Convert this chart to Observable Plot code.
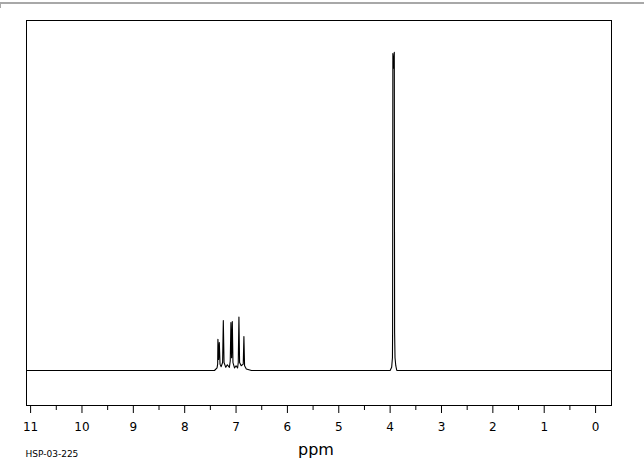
<!DOCTYPE html>
<html><head><meta charset="utf-8">
<script src="https://cdn.jsdelivr.net/npm/d3@7"></script>
<script src="https://cdn.jsdelivr.net/npm/@observablehq/plot@0.6"></script>
<style>
body{margin:0;background:#fff;}
#wrap{position:relative;width:644px;height:465px;}
.rule{position:absolute;left:0;top:2px;width:644px;height:2px;background:#a8a8a8;}
.rtick{position:absolute;left:0;top:2px;width:1px;height:6px;background:#a8a8a8;}
#chart{position:absolute;left:0;top:0;}
</style>
</head><body>
<div id="wrap"><div class="rule"></div><div class="rtick"></div><div id="chart"></div></div>
<script>
// Spectrum points (chemical shift in ppm, relative intensity)
const ppm = [11.08, 7.42, 7.37, 7.358, 7.353, 7.340, 7.326, 7.312, 7.29, 7.262, 7.248, 7.234, 7.20, 7.17, 7.13, 7.113, 7.100, 7.087, 7.073, 7.060, 7.03, 7.00, 6.97, 6.957, 6.944, 6.931, 6.90, 6.86, 6.847, 6.834, 6.80, 6.70,
             4.00, 3.97, 3.955, 3.952, 3.947, 3.933, 3.919, 3.913, 3.905, 3.89, 3.87, -0.31];
const intensity = [0, 0, 0.8, 2, 9.8, 3.5, 8.8, 2, 1.2, 2.5, 15.7, 2.5, 1, 1.8, 1, 3, 15.1, 4, 15.4, 2.5, 0.8, 1.5, 0.8, 2.5, 16.8, 2.5, 1.5, 2, 10.7, 1.5, 0.5, 0,
                   0, 1, 4, 12, 99.6, 95, 100, 12, 4, 1.5, 0, 0];
const majorTicks = [11, 10, 9, 8, 7, 6, 5, 4, 3, 2, 1, 0];
const minorTicks = [10.5, 9.5, 8.5, 7.5, 6.5, 5.5, 4.5, 3.5, 2.5, 1.5, 0.5];
const axisLabel = "ppm";
const caption = "HSP-03-225";

const data = ppm.map((p, i) => ({ppm: p, intensity: intensity[i]}));

const chart = Plot.plot({
  width: 644, height: 465,
  marginLeft: 26, marginRight: 33, marginTop: 20, marginBottom: 60,
  style: {fontFamily: "DejaVu Sans", background: "transparent", overflow: "visible", color: "black"},
  x: {domain: [11.08, -0.31]},
  y: {domain: [-11, 110], axis: null},
  marks: [
    Plot.frame({stroke: "black"}),
    Plot.axisX({ticks: minorTicks, tickSize: 5, text: null, label: null}),
    Plot.axisX({ticks: majorTicks, tickSize: 8, tickPadding: 9, fontSize: 12, label: null, tickFormat: d => String(d)}),
    Plot.line(data, {x: "ppm", y: "intensity", stroke: "black", strokeWidth: 1.1}),
    Plot.text([axisLabel], {frameAnchor: "bottom", dx: -3, dy: 49, fontSize: 16}),
    Plot.text([caption], {frameAnchor: "bottom-left", textAnchor: "start", dx: -1, dy: 51, fontSize: 9})
  ]
});
document.getElementById("chart").appendChild(chart);
</script>
</body></html>
